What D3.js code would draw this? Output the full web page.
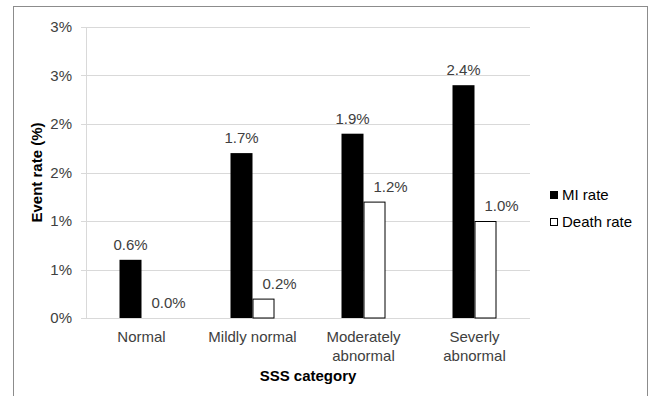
<!DOCTYPE html>
<html>
<head>
<meta charset="utf-8">
<script src="https://cdn.jsdelivr.net/npm/d3@7"></script>
<style>
html,body{margin:0;padding:0;background:#fff;}
svg{display:block;font-family:"Liberation Sans",Arial,sans-serif;}
</style>
</head>
<body>
<svg id="chart" width="650" height="396"></svg>
<script>
const categories = [["Normal"], ["Mildly normal"], ["Moderately", "abnormal"], ["Severly", "abnormal"]];
const seriesNames = ["MI rate", "Death rate"];
const miRate = [0.6, 1.7, 1.9, 2.4];
const deathRate = [0.0, 0.2, 1.2, 1.0];
const yTicks = [0, 0.5, 1, 1.5, 2, 2.5, 3];
const yTickLabels = ["0%", "1%", "1%", "2%", "2%", "3%", "3%"];
const valueLabelsMI = ["0.6%", "1.7%", "1.9%", "2.4%"];
const valueLabelsDeath = ["0.0%", "0.2%", "1.2%", "1.0%"];

(function () {
const svg = d3.select("#chart");
const pL = 86, pR = 530, pT = 27, pB = 318;
const textCol = "#404040";

// outer frame
svg.append("rect").attr("x", 13.5).attr("y", 6.5).attr("width", 634).attr("height", 400)
  .attr("fill", "none").attr("stroke", "#8c8c8c").attr("stroke-width", 1);

const x = d3.scaleBand().domain(d3.range(categories.length)).range([pL, pR]);
const y = d3.scaleLinear().domain([0, 3]).range([pB, pT]);

// gridlines
svg.append("g").selectAll("line").data(yTicks).join("line")
  .attr("x1", pL - 5).attr("x2", pR)
  .attr("y1", d => Math.round(y(d)) + 0.5).attr("y2", d => Math.round(y(d)) + 0.5)
  .attr("stroke", "#d9d9d9").attr("stroke-width", 1);
// y axis line
svg.append("line").attr("x1", pL + 0.5).attr("x2", pL + 0.5).attr("y1", pT).attr("y2", pB + 0.5)
  .attr("stroke", "#d9d9d9");

// y tick labels
svg.append("g").selectAll("text").data(yTicks).join("text")
  .attr("x", pL - 14).attr("y", d => y(d) + 5)
  .attr("text-anchor", "end").attr("font-size", 15).attr("fill", textCol)
  .text((d, i) => yTickLabels[i]);

// bars
const barW = 22;
const grp = svg.append("g");
categories.forEach((c, i) => {
  const cx = x(i) + x.bandwidth() / 2;
  grp.append("rect").attr("x", cx - barW).attr("y", y(miRate[i])).attr("width", barW)
    .attr("height", y(0) - y(miRate[i])).attr("fill", "#000");
  grp.append("rect").attr("x", cx + 0.5).attr("y", y(deathRate[i]) + 0.5).attr("width", barW - 1)
    .attr("height", Math.max(0, y(0) - y(deathRate[i]) - 0.5)).attr("fill", "#fff")
    .attr("stroke", "#000").attr("stroke-width", 1);
  grp.append("text").attr("x", cx - barW / 2).attr("y", y(miRate[i]) - 10)
    .attr("text-anchor", "middle").attr("font-size", 15).attr("fill", textCol).text(valueLabelsMI[i]);
  grp.append("text").attr("x", cx + barW / 2 + 16).attr("y", y(deathRate[i]) - 10)
    .attr("text-anchor", "middle").attr("font-size", 15).attr("fill", textCol).text(valueLabelsDeath[i]);
  const t = grp.append("text").attr("text-anchor", "middle").attr("font-size", 15).attr("fill", textCol);
  c.forEach((line, k) => {
    t.append("tspan").attr("x", cx).attr("y", 342 + k * 19).text(line);
  });
});

// axis titles
svg.append("text").attr("x", (pL + pR) / 2).attr("y", 381).attr("text-anchor", "middle")
  .attr("font-size", 15).attr("font-weight", "bold").attr("fill", "#000").text("SSS category");
svg.append("text").attr("transform", `translate(42,${(pT + pB) / 2}) rotate(-90)`)
  .attr("text-anchor", "middle").attr("font-size", 15).attr("font-weight", "bold").attr("fill", "#000")
  .text("Event rate (%)");

// legend
const leg = svg.append("g");
seriesNames.forEach((n, i) => {
  const ly = 200 + i * 27;
  leg.append("rect").attr("x", i === 0 ? 550 : 550.5).attr("y", ly - (i === 0 ? 9 : 8.5))
    .attr("width", i === 0 ? 8 : 7).attr("height", i === 0 ? 8 : 7)
    .attr("fill", i === 0 ? "#000" : "#fff").attr("stroke", i === 0 ? "none" : "#000");
  leg.append("text").attr("x", 562).attr("y", ly).attr("font-size", 15).attr("fill", "#000").text(n);
});
})();
</script>
</body>
</html>
